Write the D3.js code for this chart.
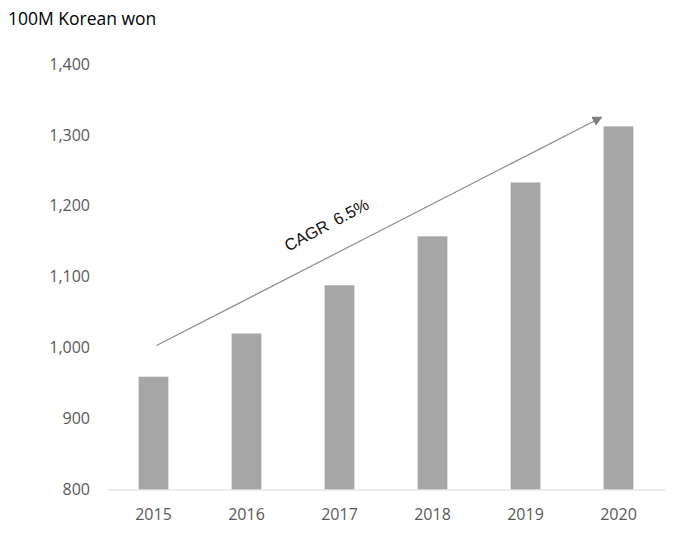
<!DOCTYPE html>
<html><head><meta charset="utf-8">
<script src="https://cdn.jsdelivr.net/npm/d3@7"></script>
<style>body{margin:0;background:#fff}svg{display:block}</style>
</head><body>
<svg id="c" width="688" height="541"></svg>
<script>
const categories = ["2015","2016","2017","2018","2019","2020"];
const values = [959, 1020, 1088, 1157, 1233, 1312];
const yTicks = [800, 900, 1000, 1100, 1200, 1300, 1400];
const unitLabel = "100M Korean won";
const cagrLabel = "CAGR 6.5%";
const cagrFrom = {cat: "2015", v: 1003};
const cagrTo = {cat: "2020", v: 1325};

const svg = d3.select("#c");
const font = "'Open Sans','Noto Sans',sans-serif";
const x = d3.scaleBand().domain(categories).range([107, 665]).paddingInner(0.68).paddingOuter(0.34);
const y = d3.scaleLinear().domain([800, 1400]).range([489.5, 64]);

svg.append("text").attr("x", 8).attr("y", 25).attr("font-family", font)
  .attr("font-size", 17.5).attr("fill", "#000").text(unitLabel);

const ya = svg.append("g").attr("transform", "translate(90,0)")
  .call(d3.axisLeft(y).tickValues(yTicks).tickSize(0).tickPadding(0).tickFormat(d3.format(",")));
ya.select(".domain").remove();
ya.selectAll("text").attr("font-family", font).attr("font-size", 16).attr("fill", "#595959");

svg.selectAll("rect.bar").data(values).join("rect").attr("class","bar")
  .attr("x", (d,i) => x(categories[i])).attr("width", x.bandwidth())
  .attr("y", d => y(d)).attr("height", d => y(800) - y(d)).attr("fill", "#a6a6a6");

const xa = svg.append("g").attr("transform", `translate(0,${y(800)})`)
  .call(d3.axisBottom(x).tickSize(0).tickPadding(19));
xa.select(".domain").attr("stroke", "#d9d9d9");
xa.selectAll("text").attr("font-family", font).attr("font-size", 16).attr("fill", "#595959");

const defs = svg.append("defs");
defs.append("marker").attr("id","ah").attr("viewBox","0 0 10 10").attr("refX",9).attr("refY",5)
  .attr("markerWidth",10).attr("markerHeight",10).attr("markerUnits","userSpaceOnUse").attr("orient","auto")
  .append("path").attr("d","M0,0L10,5L0,10Z").attr("fill","#7f7f7f");

const x1 = x(cagrFrom.cat) + x.bandwidth()*0.6, y1 = y(cagrFrom.v);
const x2 = x(cagrTo.cat) - 2, y2 = y(cagrTo.v);
svg.append("line").attr("x1",x1).attr("y1",y1).attr("x2",x2).attr("y2",y2)
  .attr("stroke","#8c8c8c").attr("stroke-width",1.2).attr("marker-end","url(#ah)");

const ang = Math.atan2(y2-y1, x2-x1)*180/Math.PI - 0.8;
const tx = x1 + (x2-x1)*0.388, ty = y1 + (y2-y1)*0.388 - 27;
svg.append("text").attr("transform",`translate(${tx},${ty}) rotate(${ang})`)
  .attr("text-anchor","middle").attr("font-family","'Liberation Sans',Arial,sans-serif")
  .attr("font-size",16.5).attr("word-spacing",3).attr("fill","#111").text(cagrLabel);
</script>
</body></html>
